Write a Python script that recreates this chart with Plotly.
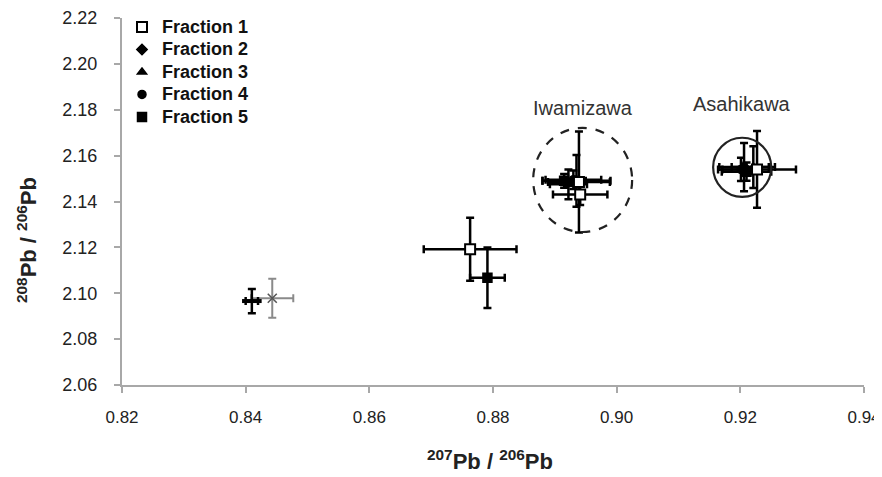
import plotly.graph_objects as go

# ---------------- data ----------------
frac_names = ["Fraction 1", "Fraction 2", "Fraction 3", "Fraction 4", "Fraction 5"]

f1_x = [0.8763, 0.8939, 0.8941, 0.9227]
f1_y = [2.1192, 2.1485, 2.1430, 2.1540]
f1_xe = [0.0075, 0.0050, 0.0044, 0.0063]
f1_ye = [0.0137, 0.0220, 0.0045, 0.0167]

f2_x = [0.8935, 0.9206]
f2_y = [2.1490, 2.1550]
f2_xe = [0.0055, 0.0040]
f2_ye = [0.0113, 0.0105]

f3_x = [0.8922, 0.9221]
f3_y = [2.1475, 2.1550]
f3_xe = [0.0030, 0.0035]
f3_ye = [0.0065, 0.0091]

f4_x = [0.8930, 0.9201]
f4_y = [2.1495, 2.1540]
f4_xe = [0.0045, 0.0030]
f4_ye = [0.0040, 0.0051]

f5_x = [0.8791, 0.8915, 0.9210]
f5_y = [2.1068, 2.1490, 2.1530]
f5_xe = [0.0028, 0.0035, 0.0040]
f5_ye = [0.0132, 0.0030, 0.0040]

# reference samples (no legend)
ref_x = [0.8443]
ref_y = [2.0978]
ref_xe = [0.0034]
ref_ye = [0.0085]

dash_x = [0.8410]
dash_y = [2.0966]
dash_xe = [0.0010]
dash_ye = [0.0053]

region_names = ["Iwamizawa", "Asahikawa"]
region_cx = [0.8945, 0.9203]
region_cy = [2.1494, 2.1549]
region_rx = [0.0080, 0.0047]
region_ry = [0.0227, 0.0129]
region_dash = ["dash", "solid"]
label_y = [2.1808, 2.1825]

x_ticks = [0.82, 0.84, 0.86, 0.88, 0.90, 0.92, 0.94]
y_ticks = [2.06, 2.08, 2.10, 2.12, 2.14, 2.16, 2.18, 2.20, 2.22]

# ---------------- figure ----------------
FONT = "Arial, Liberation Sans, Helvetica, sans-serif"
fig = go.Figure()

def add_series(name, xs, ys, xe, ye, symbol, fill, size=9, showlegend=True, rank=1000,
               ebcolor="black", ebthick=2.5, lw=1.5, lcolor="black"):
    label = '<span style="font-size:18px"><b>%s</b></span>' % name
    fig.add_trace(go.Scatter(
        x=xs, y=ys, mode="markers", name=label, showlegend=showlegend, legendrank=rank,
        marker=dict(symbol=symbol, size=size, color=fill,
                    line=dict(color=lcolor, width=lw)),
        error_x=dict(type="data", array=xe, visible=True, color=ebcolor,
                     thickness=ebthick, width=4),
        error_y=dict(type="data", array=ye, visible=True, color=ebcolor,
                     thickness=ebthick, width=4),
    ))

add_series("ref", ref_x, ref_y, ref_xe, ref_ye, "x-thin", "#777", size=9,
           showlegend=False, ebcolor="#8a8a8a", ebthick=2, lw=1.5, lcolor="#555")
add_series("dash", dash_x, dash_y, dash_xe, dash_ye, "line-ew", "black", size=14,
           showlegend=False, lw=4)
add_series(frac_names[1], f2_x, f2_y, f2_xe, f2_ye, "diamond", "black", size=8, rank=2)
add_series(frac_names[2], f3_x, f3_y, f3_xe, f3_ye, "triangle-up", "black", size=8, rank=3)
add_series(frac_names[3], f4_x, f4_y, f4_xe, f4_ye, "circle", "black", size=8, rank=4)
add_series(frac_names[4], f5_x, f5_y, f5_xe, f5_ye, "square", "black", size=9, rank=5)
add_series(frac_names[0], f1_x, f1_y, f1_xe, f1_ye, "square", "white", size=10, lw=2, rank=1)

for name, cx, cy, rx, ry, dsh, ly in zip(region_names, region_cx, region_cy,
                                          region_rx, region_ry, region_dash, label_y):
    fig.add_shape(type="circle", xref="x", yref="y",
                  x0=cx - rx, x1=cx + rx, y0=cy - ry, y1=cy + ry,
                  line=dict(color="#222", width=2.2, dash=dsh))
    fig.add_annotation(x=cx, y=ly, xref="x", yref="y", text=name, showarrow=False,
                       font=dict(family=FONT, size=20, color="#333"))

fig.add_annotation(xref="paper", yref="paper", x=-0.128, y=0.395,
                   xanchor="center", yanchor="middle",
                   text="<b><sup>208</sup>Pb / <sup>206</sup>Pb</b>", textangle=-90,
                   showarrow=False, font=dict(family=FONT, size=22, color="#222"))
fig.add_annotation(xref="paper", yref="paper", x=0.496, y=-0.205,
                   xanchor="center", yanchor="middle",
                   text="<b><sup>207</sup>Pb / <sup>206</sup>Pb</b>",
                   showarrow=False, font=dict(family=FONT, size=22, color="#222"))

axis_common = dict(showgrid=False, zeroline=False, showline=True, linecolor="#a8a8a8",
                   linewidth=2, ticks="outside", tickcolor="#a8a8a8", ticklen=6,
                   tickwidth=1.5, automargin=False)

fig.update_xaxes(range=[0.82, 0.94], tickvals=x_ticks,
                 ticktext=["%.2f" % v for v in x_ticks], ticklabelstandoff=10,
                 tickfont=dict(family=FONT, size=17, color="#222"),
                 **axis_common)
fig.update_yaxes(range=[2.06, 2.22], tickvals=y_ticks,
                 ticktext=["%.2f" % v for v in y_ticks], ticklabelstandoff=13,
                 tickfont=dict(family=FONT, size=18, color="#222"),
                 **axis_common)

# the page body adds an ~8px offset, so the figure is sized to fit inside it
fig.update_layout(
    width=874, height=469,
    margin=dict(l=114, r=18, t=10, b=92, autoexpand=False),
    plot_bgcolor="white", paper_bgcolor="white",
    showlegend=True,
    legend=dict(x=0.0, y=1.02, xanchor="left", yanchor="top",
                bgcolor="rgba(0,0,0,0)", font=dict(family=FONT, size=15, color="#111"),
                itemwidth=30, tracegroupgap=0),
)

fig.write_html("out.html")
